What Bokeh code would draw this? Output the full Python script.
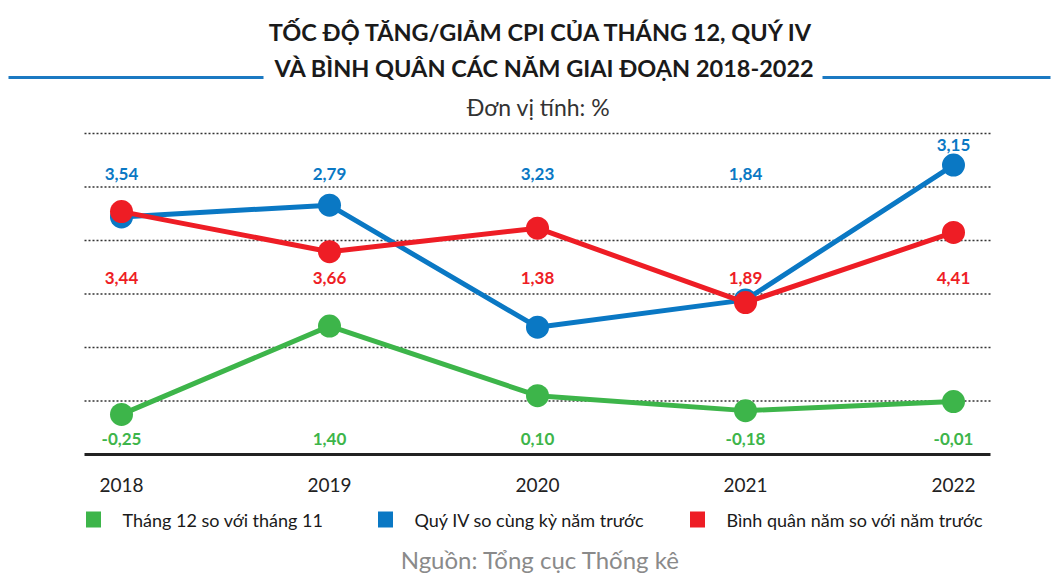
from bokeh.plotting import figure
from bokeh.embed import file_html
from bokeh.resources import INLINE
from bokeh.core.properties import value

# ---------------- data ----------------
years = [2018, 2019, 2020, 2021, 2022]
year_labels = ["2018", "2019", "2020", "2021", "2022"]
thang12 = [-0.25, 1.40, 0.10, -0.18, -0.01]      # Tháng 12 so với tháng 11
quy4 = [3.44, 3.66, 1.38, 1.89, 4.41]           # Quý IV so cùng kỳ năm trước
binhquan = [3.54, 2.79, 3.23, 1.84, 3.15]       # Bình quân năm so với năm trước
grid_values = [0, 1, 2, 3, 4, 5]
series_names = ["Tháng 12 so với tháng 11", "Quý IV so cùng kỳ năm trước",
                "Bình quân năm so với năm trước"]

title1 = "TỐC ĐỘ TĂNG/GIẢM CPI CỦA THÁNG 12, QUÝ IV"
title2 = "VÀ BÌNH QUÂN CÁC NĂM GIAI ĐOẠN 2018-2022"
unit_text = "Đơn vị tính: %"
source_text = "Nguồn: Tổng cục Thống kê"

GREEN = "#3db54a"
BLUE = "#0a78c4"
RED = "#ee1d25"
DARK = "#222222"

# ---------------- layout helpers (picture pixels -> data) ----------------
W, H = 1056, 573
X0_PAGE, DX = 121.0, 208.0      # pixel x of 2018, pixels per year
Y0_PAGE, DY = 400.5, 53.5       # pixel y of value 0, pixels per unit


def px(page_x):
    return years[0] + (page_x - X0_PAGE) / DX


def py(page_y):
    return (Y0_PAGE - page_y) / DY


def fmt(v):
    return ("%.2f" % v).replace(".", ",")


FONT = value("Lato")

p = figure(width=W, height=H, output_backend="svg", toolbar_location=None,
           x_range=(px(0), px(W)), y_range=(py(H), py(0)),
           min_border=0, min_border_left=0, min_border_right=0,
           min_border_top=0, min_border_bottom=0)
p.axis.visible = False
p.grid.visible = False
p.outline_line_color = None
p.background_fill_color = "white"
p.border_fill_color = "white"

# grid lines (dotted) and base axis line
gx0, gx1 = px(84), px(990)
p.segment(x0=[gx0] * len(grid_values), x1=[gx1] * len(grid_values),
          y0=grid_values, y1=grid_values, line_color="#333333",
          line_width=1.6, line_dash="2 2")
base = min(grid_values) - 1
p.segment(x0=[gx0], x1=[gx1], y0=[base], y1=[base], line_color=DARK, line_width=3)

# year labels
p.text(x=years, y=[py(484)] * len(years), text=year_labels, text_font=FONT,
       text_font_size="19px", text_align="center", text_baseline="middle",
       text_color=DARK)

# series lines
p.line(years, thang12, line_color=GREEN, line_width=5)
p.scatter(years, thang12, size=23, fill_color=GREEN, line_color=None)
p.line(years, quy4, line_color=BLUE, line_width=5)
p.scatter(years, quy4, size=23, fill_color=BLUE, line_color=None)
p.line(years, binhquan, line_color=RED, line_width=5)
p.scatter(years, binhquan, size=23, fill_color=RED, line_color=None)

# value labels (as printed in the original graphic)
top_y = [max(py(173), v + 0.38) for v in quy4]
p.text(x=years, y=top_y, text=[fmt(v) for v in binhquan], text_font=FONT,
       text_font_style="bold", text_font_size="17px", text_align="center",
       text_baseline="middle", text_color=BLUE)
p.text(x=years, y=[py(277)] * len(years), text=[fmt(v) for v in quy4],
       text_font=FONT, text_font_style="bold", text_font_size="17px",
       text_align="center", text_baseline="middle", text_color=RED)
p.text(x=years, y=[py(438)] * len(years), text=[fmt(v) for v in thang12],
       text_font=FONT, text_font_style="bold", text_font_size="17px",
       text_align="center", text_baseline="middle", text_color=GREEN)

# titles
p.text(x=[px(541)], y=[py(31)], text=[title1], text_font=FONT,
       text_font_style="bold", text_font_size="23.5px", text_align="center",
       text_baseline="middle", text_color="#1a1a1a")
p.text(x=[px(544)], y=[py(67)], text=[title2], text_font=FONT,
       text_font_style="bold", text_font_size="23.5px", text_align="center",
       text_baseline="middle", text_color="#1a1a1a")
p.segment(x0=[px(8), px(822)], x1=[px(263), px(1050)], y0=[py(77)] * 2,
          y1=[py(77)] * 2, line_color="#1b79c2", line_width=3)
p.text(x=[px(538)], y=[py(106)], text=[unit_text], text_font=FONT,
       text_font_size="23px", text_align="center", text_baseline="middle",
       text_color="#333333")

# legend
leg_sq_x = [px(93), px(385), px(697)]
leg_tx_x = [px(122), px(414), px(726)]
p.rect(x=leg_sq_x, y=[py(519)] * 3, width=15, height=16, width_units="screen",
       height_units="screen", fill_color=[GREEN, BLUE, RED], line_color=None)
p.text(x=leg_tx_x, y=[py(519)] * 3, text=series_names, text_font=FONT,
       text_font_size="18px", text_align="left", text_baseline="middle",
       text_color="#1a1a1a")

# source
p.text(x=[px(540)], y=[py(559)], text=[source_text], text_font=FONT,
       text_font_size="24px", text_align="center", text_baseline="middle",
       text_color="#8a8a8a")

open("out.html", "w").write(file_html(p, INLINE))
